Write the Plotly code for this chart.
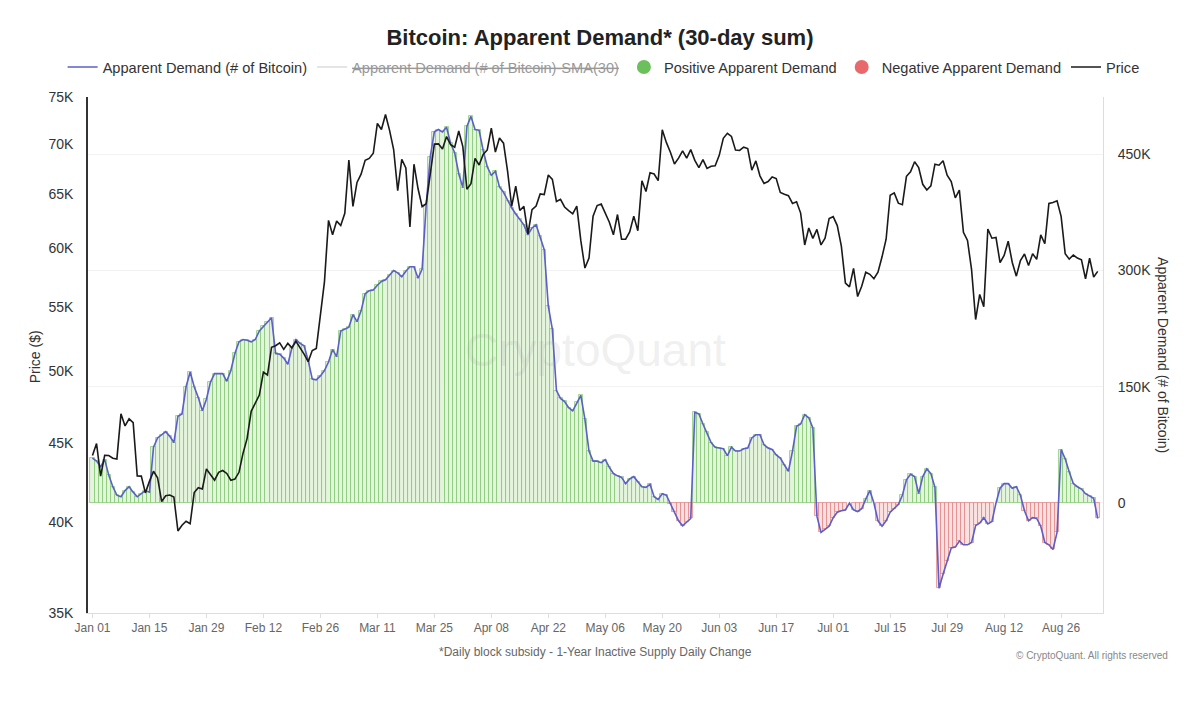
import math
import pandas as pd
import plotly.graph_objects as go

# ---------------- data ----------------
start_date = "2024-01-01"

# BTC daily price (USD), Jan 01 2024 -> Sep 04 2024
price = [
    # Jan
    44168, 44958, 42848, 44179, 44163, 43989, 43943, 46970, 46139, 46627,
    46368, 42853, 42842, 41796, 42511, 43154, 42742, 41262, 41618, 41665,
    41545, 39507, 39845, 40077, 39933, 41816, 42120, 42036, 43300, 42946, 42582,
    # Feb
    43082, 43200, 43011, 42583, 42658, 43084, 44319, 45301, 47147, 47771,
    48293, 49958, 49742, 51826, 51938, 52160, 51663, 52122, 51779, 52284,
    51839, 51304, 50731, 51571, 51733, 54522, 57085, 62504, 61198,
    # Mar
    62440, 62029, 63168, 68330, 63801, 66106, 66925, 68300, 68498, 69020,
    72123, 71482, 73083, 71397, 69403, 65316, 68390, 67548, 61912, 67913,
    65491, 63779, 64062, 67234, 69958, 69987, 69455, 70744, 69892, 69645, 71333,
    # Apr
    69702, 65446, 65980, 68508, 67837, 68897, 69362, 71632, 69139, 70587,
    70060, 67195, 63821, 65738, 63426, 63811, 61276, 63513, 63843, 64994,
    64927, 66837, 66408, 64276, 64482, 63755, 63419, 63113, 63841, 60636,
    # May
    58254, 59123, 62889, 63891, 64031, 63161, 62334, 61187, 63049, 60792,
    60793, 61448, 62901, 61552, 66267, 65231, 67051, 66940, 66278, 71448,
    70136, 69122, 67929, 68526, 69265, 68518, 69394, 68296, 67579, 68365, 67491,
    # Jun
    67706, 67752, 68804, 70567, 71082, 70757, 69342, 69305, 69648, 69508,
    67314, 68243, 66757, 66012, 66191, 66639, 66491, 65140, 64960, 64828,
    64096, 64253, 63181, 60277, 61805, 60865, 61674, 60278, 60875, 62678,
    # Jul
    62851, 62029, 60173, 56977, 56663, 58231, 55857, 56705, 57899, 57718,
    57345, 57899, 59231, 60788, 64870, 65097, 64118, 63975, 66710, 67164,
    68155, 67586, 65928, 65372, 65777, 67912, 67813, 68255, 66819, 66201, 64619,
    # Aug
    65357, 61416, 60680, 58116, 53991, 56034, 55027, 61710, 60881, 60945,
    58719, 59355, 60609, 58737, 57561, 58894, 59479, 58483, 59493, 59013,
    61175, 60382, 64095, 64178, 64333, 62880, 59504, 59027, 59388, 59119, 58969,
    # Sep
    57326, 59113, 57485, 57971,
]

# Apparent demand, 30-day sum (thousands of BTC), same days
demand_k = [
    58, 54, 47, 56, 36, 21, 10, 8, 16, 21,
    14, 8, 12, 16, 14, 72, 84, 88, 92, 86,
    78, 112, 115, 150, 169, 150, 136, 119, 134, 156,
    167, 167, 167, 157, 171, 193, 208, 211, 210, 208,
    211, 222, 228, 233, 239, 193, 192, 187, 179, 200,
    211, 206, 203, 184, 160, 159, 164, 171, 182, 198,
    189, 222, 224, 227, 243, 234, 248, 270, 274, 275,
    281, 286, 288, 294, 300, 297, 292, 299, 305, 305,
    290, 302, 385, 447, 479, 482, 479, 485, 464, 452,
    425, 407, 486, 499, 482, 481, 455, 434, 423, 428,
    408, 401, 390, 381, 373, 366, 359, 346, 355, 359,
    344, 327, 254, 224, 145, 135, 131, 123, 119, 130,
    139, 108, 67, 54, 54, 52, 56, 46, 38, 35,
    33, 25, 31, 34, 27, 21, 20, 24, 8, 4.5,
    12, 10, -1, -12, -23, -29.5, -25, -20, 117, 115,
    102, 91, 78, 72, 71, 70, 61, 72, 67, 67,
    70, 71, 84, 88, 88, 75, 71, 69, 62, 58,
    49, 41, 67, 99, 102, 114, 110, 97, -17, -38,
    -34, -30, -19, -12, -10, -9, 0, -9, -11, -7.5,
    5, 16, 0, -23, -30, -23, -12, -7.5, -2, 10,
    30, 37, 34, 12, 34, 44, 38, 20, -110, -92,
    -75, -58, -57, -49, -54, -54, -51, -29, -26, -19,
    -27, -24, 0, 19, 25, 25, 19, 21, 10, -10,
    -23, -19, -20, -30, -51, -54, -60, -38, 69, 57,
    40, 25, 21, 18, 12, 9, 6, -20,
]

price_ticks = [35000, 40000, 45000, 50000, 55000, 60000, 65000, 70000, 75000]
price_tick_text = ["35K", "40K", "45K", "50K", "55K", "60K", "65K", "70K", "75K"]
demand_ticks = [0, 150000, 300000, 450000]
demand_tick_text = ["0", "150K", "300K", "450K"]

# ---------------- derived ----------------
dates = pd.date_range(start_date, periods=len(price), freq="D")
demand = [v * 1000 for v in demand_k]
pos = [v if v > 0 else None for v in demand]
neg = [v if v < 0 else None for v in demand]

FONT = "Liberation Sans, Arial, Helvetica, sans-serif"

fig = go.Figure()

fig.add_trace(go.Bar(
    x=dates, y=pos, yaxis="y", showlegend=False, hoverinfo="skip",
    marker=dict(color="rgb(228,244,221)",
                line=dict(color="rgba(112,192,92,0.7)", width=0.9)),
))
fig.add_trace(go.Bar(
    x=dates, y=neg, yaxis="y", showlegend=False, hoverinfo="skip",
    marker=dict(color="rgb(250,226,226)",
                line=dict(color="rgba(224,120,120,0.75)", width=0.9)),
))
fig.add_trace(go.Scatter(
    x=dates, y=demand, yaxis="y", mode="lines",
    line=dict(color="#5b5fc7", width=1.6),
    name="Apparent Demand (# of Bitcoin)", legendrank=1,
))
fig.add_trace(go.Scatter(
    x=[None], y=[None], yaxis="y", mode="lines",
    line=dict(color="#bbbbbb", width=1.5),
    name="<s>Apparent Demand (# of Bitcoin)-SMA(30)</s>",
    visible="legendonly", legendrank=2,
))
fig.add_trace(go.Scatter(
    x=[None], y=[None], yaxis="y", mode="markers",
    marker=dict(color="#6cc05c", size=14),
    name="Positive Apparent Demand", legendrank=3,
))
fig.add_trace(go.Scatter(
    x=[None], y=[None], yaxis="y", mode="markers",
    marker=dict(color="#e8696b", size=14),
    name="Negative Apparent Demand", legendrank=4,
))
fig.add_trace(go.Scatter(
    x=dates, y=price, yaxis="y2", mode="lines",
    line=dict(color="#1a1a1a", width=1.6),
    name="Price", legendrank=5,
))

PLOT_H = 728 - 97 - 115

fig.update_layout(
    width=1200, height=728,
    margin=dict(l=88, r=97, t=97, b=115),
    paper_bgcolor="white", plot_bgcolor="white",
    font=dict(family=FONT, size=13, color="#444"),
    title=dict(text="<b>Bitcoin: Apparent Demand* (30-day sum)</b>",
               x=0.5, xanchor="center", y=1 - 37 / 728, yanchor="middle",
               font=dict(size=22, color="#222")),
    barmode="overlay", bargap=0,
    legend=dict(orientation="h", x=-0.025, xanchor="left",
                y=1 + 30 / PLOT_H, yanchor="middle",
                font=dict(size=14.6, color="#333"), bgcolor="rgba(0,0,0,0)"),
    xaxis=dict(type="date",
               range=["2023-12-30 21:40", "2024-09-05 07:00"],
               tick0="2024-01-01", dtick=14 * 86400000, tickformat="%b %d",
               showgrid=False, showline=True, linecolor="#dddddd",
               ticks="outside", ticklen=4, tickcolor="#dddddd",
               tickfont=dict(size=12, color="#666")),
    yaxis=dict(side="right", range=[-142000, 524000],
               tickmode="array", tickvals=demand_ticks, ticktext=demand_tick_text,
               showgrid=True, gridcolor="#f2f2f2", zeroline=False,
               showline=True, linecolor="#dddddd",
               tickfont=dict(size=14, color="#333"), ticklabelstandoff=11),
    yaxis2=dict(overlaying="y", side="left", type="log",
                range=[math.log10(35000), math.log10(75000)],
                tickmode="array", tickvals=price_ticks, ticktext=price_tick_text,
                showgrid=False, zeroline=False,
                showline=True, linecolor="#333333", linewidth=1.5,
                tickfont=dict(size=14, color="#333"), ticklabelstandoff=10),
    annotations=[
        dict(text="CryptoQuant", xref="paper", yref="paper", x=0.5, y=0.51,
             xanchor="center", yanchor="middle", showarrow=False,
             font=dict(size=46, color="rgba(160,160,160,0.18)")),
        dict(text="Price ($)", xref="paper", yref="paper", x=-0.052, y=0.496,
             xanchor="center", yanchor="middle",
             textangle=-90, showarrow=False, font=dict(size=14, color="#333")),
        dict(text="Apparent Demand (# of Bitcoin)", xref="paper", yref="paper",
             x=1.059, y=0.5, xanchor="center", yanchor="middle",
             textangle=90, showarrow=False,
             font=dict(size=14, color="#333")),
        dict(text="*Daily block subsidy - 1-Year Inactive Supply Daily Change",
             xref="paper", yref="paper", x=0.5, y=-0.0756,
             xanchor="center", yanchor="middle", showarrow=False,
             font=dict(size=12, color="#666")),
        dict(text="© CryptoQuant. All rights reserved", xref="paper", yref="paper",
             x=1.066, xanchor="right", y=-0.0814, yanchor="middle", showarrow=False,
             font=dict(size=10, color="#888")),
    ],
)

fig.write_html(
    "out.html",
    config={"displayModeBar": False},
    post_script="document.body.style.margin='0';document.body.style.overflow='hidden';",
)
